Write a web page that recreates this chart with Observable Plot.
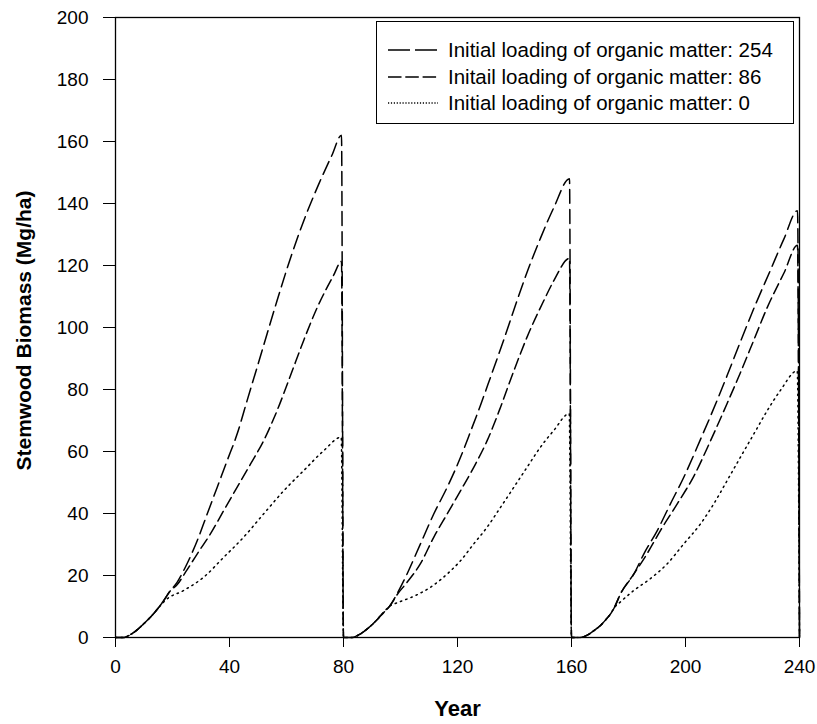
<!DOCTYPE html>
<html>
<head>
<meta charset="utf-8">
<script src="https://cdn.jsdelivr.net/npm/d3@7"></script>
<script src="https://cdn.jsdelivr.net/npm/@observablehq/plot@0.6"></script>
<style>
html, body { margin: 0; padding: 0; background: #fff; }
#wrap { position: relative; width: 817px; height: 724px; font-family: "Liberation Sans", Arial, Helvetica, sans-serif; }
#legend { position: absolute; left: 376px; top: 21px; width: 418px; height: 103px; border: 1.4px solid #000; background: #fff; box-sizing: border-box; }
.lrow { position: absolute; left: 0; height: 24px; width: 100%; }
.lrow svg { position: absolute; left: 11px; top: 0; }
.lrow span { position: absolute; left: 71px; top: 0; line-height: 24px; font-size: 20.5px; color: #000; white-space: nowrap; }
</style>
</head>
<body>
<div id="wrap"></div>
<script>
// ---- data ----
const xTicks = [0, 40, 80, 120, 160, 200, 240];
const yTicks = [0, 20, 40, 60, 80, 100, 120, 140, 160, 180, 200];
const xTitle = "Year";
const yTitle = "Stemwood Biomass (Mg/ha)";
const seriesLabels = [
  "Initial loading of organic matter: 254",
  "Initail loading of organic matter: 86",
  "Initial loading of organic matter: 0"
];

const years254 = [0, 3, 5, 8, 10, 12.5, 15, 17, 19, 21.6, 25.1, 28.7, 32.2, 35.7, 39.2, 42.7, 46.2, 49.7, 53.2, 56.7, 61.8, 66.5, 71.2, 75.9, 79.3, 80,
  83, 86, 89, 91, 93, 96.5, 98.8, 102.3, 107, 111.7, 116.4, 121.1, 124.6, 128.1, 131.6, 136.3, 140.9, 144.6, 149.2, 153.9, 159.3, 160,
  163, 166, 168, 170.2, 172, 173.7, 175, 177.2, 181.9, 185.4, 190.1, 194.7, 199.4, 205.3, 211.1, 214.6, 219.3, 224.6, 229.8, 234.5, 239.3, 240];
const biomass254 = [0, 0, 0.8, 2.8, 4.5, 6.8, 9.5, 12, 14.8, 17.8, 23.8, 31.3, 39.9, 48.5, 57.1, 65.7, 76.5, 87.2, 98, 108.7, 123.5, 135.5, 146, 155.5, 162, 0,
  0, 1.2, 3.3, 5, 7, 10.5, 14.1, 20.5, 30.2, 39.9, 48.5, 58.2, 66.5, 75, 84, 96.2, 108.7, 118.3, 129, 138.9, 148, 0,
  0, 1, 2.3, 3.9, 5.7, 7.6, 9.6, 14.1, 20.5, 27, 34.5, 43.1, 51.7, 64, 76.5, 84.5, 95.5, 107.5, 118.5, 128.5, 137.7, 0];

const years86 = [0, 3, 5, 8, 10, 12.5, 15, 17, 19, 21.6, 25.1, 28.7, 33.3, 38, 42.7, 47.4, 52, 56.7, 61.4, 66.1, 70.8, 73.6, 76.5, 79.3, 80,
  83, 86, 89, 91, 93, 96.5, 98.8, 102.3, 107, 111.7, 116.4, 121.1, 125.7, 130.4, 135.1, 139.8, 144.4, 150.3, 153.9, 159.3, 160,
  163, 166, 168, 170.2, 172, 173.7, 175, 177.2, 181.9, 186.5, 191.2, 197.1, 202.9, 208.8, 214.6, 219.3, 224, 228.7, 234.5, 239.3, 240];
const biomass86 = [0, 0, 0.8, 2.8, 4.5, 6.8, 9.5, 12, 14.8, 17, 21.8, 27, 33.4, 41, 48.5, 56, 63.5, 73.2, 84.5, 96, 106.5, 111.8, 116.8, 121.3, 0,
  0, 1.2, 3.3, 5, 7, 10.5, 13.8, 17.8, 23.8, 32.4, 39.9, 47.4, 54.9, 63.5, 74.3, 86.1, 96.9, 108.7, 115.3, 122.3, 0,
  0, 1, 2.3, 3.9, 5.7, 7.6, 9.6, 14.1, 20.5, 27, 34.5, 43.1, 52, 63.5, 75.5, 85.5, 96, 106.5, 117.5, 126.5, 0];

const years0 = [0, 3, 5, 8, 10, 12.5, 15, 17.5, 24, 31, 38, 45, 52, 59.1, 66.1, 73.1, 79.2, 80,
  83, 86, 89, 91, 93, 96.5, 98.8, 104.7, 110.5, 116.4, 121.1, 125.7, 130.4, 135.1, 139.8, 144.4, 149.1, 153.8, 159.2, 160,
  163, 166, 168, 170.2, 172, 173.7, 175, 177.2, 181.9, 187.7, 193.6, 199.4, 205.3, 209.9, 214.6, 219.3, 224, 228.7, 233.3, 239.2, 240];
const biomass0 = [0, 0, 0.8, 2.8, 4.5, 6.8, 9.5, 12, 15.2, 19.5, 25.9, 32.4, 39.9, 47.4, 53.9, 60.3, 64.6, 0,
  0, 1.2, 3.3, 5, 7, 10.3, 11.2, 13.3, 16.2, 20.5, 24.8, 30.2, 35.6, 42, 48.5, 54.9, 61.4, 66.8, 72.2, 0,
  0, 1, 2.3, 3.9, 5.7, 7.6, 9.6, 11.5, 15.2, 19, 23.8, 30.2, 36.7, 43.1, 50.6, 58.2, 65.7, 73.2, 79.7, 86, 0];

// ---- styling per series ----
const series = [
  {label: seriesLabels[0], years: years254, values: biomass254, dash: "14,6", legendDash: "22,5"},
  {label: seriesLabels[1], years: years86, values: biomass86, dash: "11,5", legendDash: "13.5,3.8"},
  {label: seriesLabels[2], years: years0, values: biomass0, dash: "1.4,4.2", legendDash: "1.2,1.7"}
];

const lineMarks = series.map(s => {
  const rows = s.years.map((yr, i) => ({year: yr, biomass: s.values[i]}));
  return Plot.line(rows, {
    x: "year", y: "biomass", curve: "monotone-x",
    stroke: "#000", strokeWidth: 1.5, strokeDasharray: s.dash
  });
});

const chart = Plot.plot({
  width: 817,
  height: 724,
  marginTop: 17,
  marginRight: 18,
  marginBottom: 87,
  marginLeft: 115,
  x: {domain: [0, 240]},
  y: {domain: [0, 200]},
  style: {fontFamily: '"Liberation Sans", Arial, Helvetica, sans-serif', color: "#000", background: "#fff", overflow: "visible"},
  marks: [
    Plot.axisX({ticks: xTicks, tickSize: 10, tickPadding: 12, fontSize: 19, label: null, tickFormat: d => String(d)}),
    Plot.axisY({ticks: yTicks, tickSize: 12, tickPadding: 15, fontSize: 19, label: null, tickFormat: d => String(d)}),
    ...lineMarks,
    Plot.frame({stroke: "#000", strokeWidth: 1.3}),
    Plot.text([yTitle], {text: d => d, frameAnchor: "left", textAnchor: "middle", rotate: -90, dx: -91, dy: 3, fontSize: 21, fontWeight: "bold"}),
    Plot.text([xTitle], {text: d => d, frameAnchor: "bottom", textAnchor: "middle", dy: 78, fontSize: 22, fontWeight: "bold"})
  ]
});

const wrap = document.getElementById("wrap");
wrap.appendChild(chart);

// ---- legend (inside plot area, top right) ----
const legend = document.createElement("div");
legend.id = "legend";
const rowCenters = [28, 55, 81];
series.forEach((s, i) => {
  const row = document.createElement("div");
  row.className = "lrow";
  row.style.top = (rowCenters[i] - 12) + "px";
  row.innerHTML = `<svg width="52" height="24"><line x1="0" x2="50" y1="12" y2="12" stroke="#000" stroke-width="1.4" stroke-dasharray="${s.legendDash}"/></svg><span></span>`;
  row.querySelector("span").textContent = s.label;
  legend.appendChild(row);
});
wrap.appendChild(legend);
</script>
</body>
</html>
